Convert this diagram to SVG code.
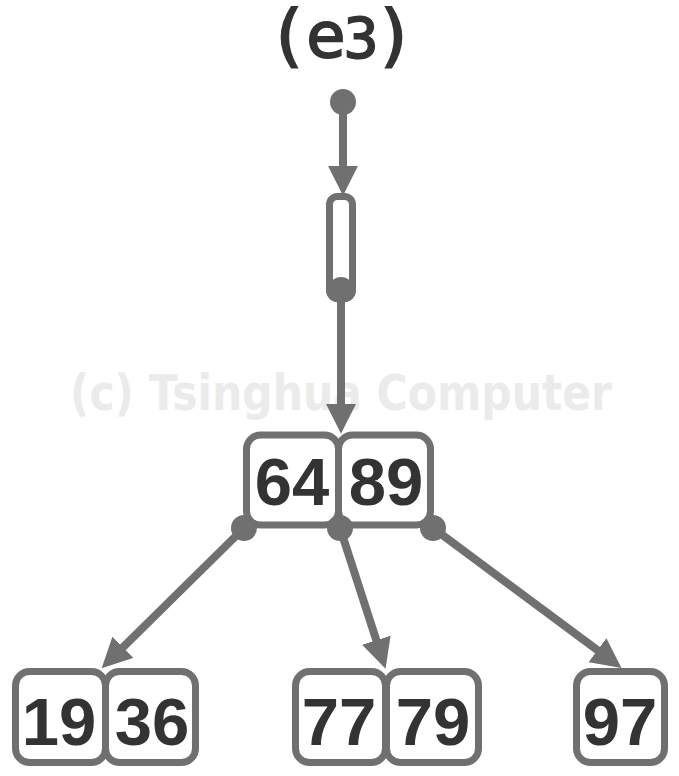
<svg xmlns="http://www.w3.org/2000/svg" width="679" height="776" viewBox="0 0 679 776">
<style>
.box{fill:#fff;stroke:#707070;stroke-width:7}
.key{font-family:"Liberation Sans",Arial,sans-serif;font-weight:bold;font-size:67px;fill:#333;text-anchor:middle}
.edge{stroke:#707070;stroke-width:8;fill:none}
.dot{fill:#707070}
.ttl{font-family:"DejaVu Sans Mono",monospace;fill:#333;stroke:#333;stroke-width:2;text-anchor:middle}
</style>
<defs>
<marker id="ah" markerUnits="userSpaceOnUse" markerWidth="30" markerHeight="30" viewBox="0 0 26 26" refX="14" refY="13" orient="auto">
<path d="M0,0 L26,13 L0,26 z" fill="#707070"/>
</marker>
</defs>
<rect width="679" height="776" fill="#fff"/>
<text x="70" y="410" font-family="DejaVu Sans,sans-serif" font-weight="bold" font-size="50" fill="#ebebeb" textLength="542" lengthAdjust="spacingAndGlyphs">(c) Tsinghua Computer</text>
<g id="title">
<text class="ttl"><tspan x="288" y="59" font-size="68">(</tspan><tspan x="326" y="57" font-family="DejaVu Sans,sans-serif" font-size="63">e</tspan><tspan x="361" y="57" font-family="DejaVu Sans,sans-serif" font-size="55">3</tspan><tspan x="395" y="59" font-size="68">)</tspan></text>
</g>
<g id="connectors">
<line class="edge" x1="343" y1="102" x2="343" y2="182" marker-end="url(#ah)"/>
<line class="edge" x1="341" y1="290" x2="341" y2="420" marker-end="url(#ah)"/>
<line class="edge" x1="244" y1="528" x2="111.5" y2="658.6" marker-end="url(#ah)"/>
<line class="edge" x1="340" y1="528" x2="381.3" y2="655.6" marker-end="url(#ah)"/>
<line class="edge" x1="433" y1="528" x2="610.4" y2="659.8" marker-end="url(#ah)"/>
</g>
<g id="root-pointer">
<circle class="dot" cx="343" cy="102" r="13"/>
</g>
<g id="hot">
<rect class="box" x="329.5" y="196.5" width="23" height="102" rx="8"/>
<circle class="dot" cx="341" cy="290" r="13"/>
</g>
<g id="node-64-89">
<rect class="box" x="246.5" y="435" width="92" height="90" rx="14"/>
<rect class="box" x="338.5" y="435" width="92" height="90" rx="14"/>
<text class="key" x="292" y="505">64</text>
<text class="key" x="386" y="505">89</text>
<circle class="dot" cx="244" cy="528" r="13"/>
<circle class="dot" cx="340" cy="528" r="13"/>
<circle class="dot" cx="433" cy="528" r="13"/>
</g>
<g id="node-19-36">
<rect class="box" x="15.5" y="671.5" width="90" height="91" rx="14"/>
<rect class="box" x="105.5" y="671.5" width="90" height="91" rx="14"/>
<text class="key" x="59" y="745">19</text>
<text class="key" x="152" y="745">36</text>
</g>
<g id="node-77-79">
<rect class="box" x="295.5" y="671.5" width="90" height="91" rx="14"/>
<rect class="box" x="386.5" y="671.5" width="92" height="91" rx="14"/>
<text class="key" x="339" y="745">77</text>
<text class="key" x="433" y="745">79</text>
</g>
<g id="node-97">
<rect class="box" x="576.5" y="671.5" width="88" height="91" rx="14"/>
<text class="key" x="620" y="745">97</text>
</g>
</svg>
